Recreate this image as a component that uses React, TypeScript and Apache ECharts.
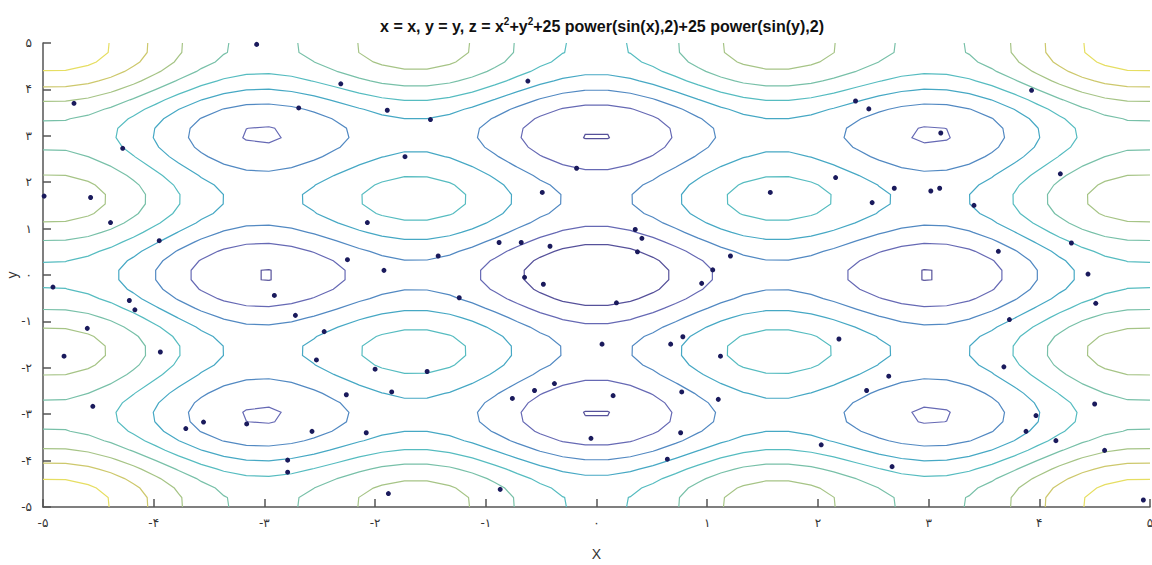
import React, { useEffect, useRef } from "react";
import * as echarts from "echarts";

// ---- data -------------------------------------------------------------
const titleText = "x = x, y = y, z = x{s|2}+y{s|2}+25 power(sin(x),2)+25 power(sin(y),2)";
const xAxisName = "X";
const yAxisName = "y";
const tickLabels = ["-۵", "-۴", "-۳", "-۲", "-۱", "۰", "۱", "۲", "۳", "۴", "۵"];
const contourLevels = [10, 20, 30, 40, 50, 60, 70, 80, 90];
const levelColors = [
  "#56519a",
  "#6669b4",
  "#5289c2",
  "#46a8c4",
  "#56bcc0",
  "#78c0a8",
  "#a6c486",
  "#cdc86c",
  "#e6de62",
];
const pointX = [
  -3.07, -2.31, -1.89, -4.72, -2.69, -4.28, -1.73, -4.99, -4.57, -4.39, -3.95, -2.07,
  -2.25, -1.92, -4.91, -4.22, -4.17, -2.91, -2.72, -2.46, -4.6, -4.81, -3.94, -2.53,
  -2.0, -1.85, -2.26, -4.55, -3.55, -3.71, -3.16, -2.57, -2.08, -2.79, -2.79, -1.88,
  -0.62, -1.5, -0.49, -0.18, 0.35, 0.41, -0.88, -0.68, -0.42, 0.37, -1.43, 1.21,
  1.05, -0.65, -0.48, 0.95, 0.18, -1.24, 0.05, 0.67, 0.78, 1.12, -1.53, -0.76,
  -0.56, -0.38, 0.15, 0.77, 1.1, -0.05, 0.76, 0.64, -0.87,
  3.93, 2.34, 2.46, 3.11, 2.16, 2.69, 3.02, 3.1, 2.49, 3.41, 4.19, 4.29, 3.63, 4.44,
  4.51, 3.73, 2.19, 2.64, 2.44, 3.68, 4.5, 3.97, 3.88, 4.15, 4.59, 2.03, 2.67, 4.94,
  1.57,
];
const pointY = [
  4.97, 4.12, 3.55, 3.7, 3.6, 2.73, 2.55, 1.7, 1.67, 1.13, 0.74, 1.13,
  0.33, 0.1, -0.26, -0.55, -0.75, -0.44, -0.87, -1.22, -1.15, -1.75, -1.66, -1.83,
  -2.03, -2.52, -2.58, -2.83, -3.17, -3.31, -3.21, -3.37, -3.4, -3.99, -4.25, -4.71,
  4.18, 3.35, 1.78, 2.3, 0.98, 0.79, 0.7, 0.7, 0.62, 0.5, 0.41, 0.41,
  0.11, -0.05, -0.2, -0.18, -0.6, -0.49, -1.49, -1.49, -1.33, -1.75, -2.08, -2.66,
  -2.49, -2.34, -2.6, -2.52, -2.68, -3.52, -3.4, -3.97, -4.62,
  3.98, 3.75, 3.58, 3.06, 2.1, 1.87, 1.81, 1.87, 1.56, 1.5, 2.18, 0.69, 0.51, 0.02,
  -0.61, -0.96, -1.38, -2.18, -2.49, -1.98, -2.78, -3.03, -3.37, -3.57, -3.78, -3.66,
  -4.13, -4.85, 1.78,
];
const domainMin = -5;
const domainMax = 5;
const gridCount = 50;

// ---- surface from the title formula --------------------------------
function surface(x: number, y: number) {
  const sx = Math.sin(x);
  const sy = Math.sin(y);
  return x * x + y * y + 25 * sx * sx + 25 * sy * sy;
}

function buildContours(level: number): number[][][] {
  const n = gridCount;
  const h = (domainMax - domainMin) / (n - 1);
  const gx: number[] = [];
  for (let i = 0; i < n; i++) gx.push(domainMin + i * h);
  const z: number[][] = [];
  for (let i = 0; i < n; i++) {
    const row: number[] = [];
    for (let j = 0; j < n; j++) row.push(surface(gx[i], gx[j]));
    z.push(row);
  }
  const pts = new Map<string, number[]>();
  const adj = new Map<string, string[]>();
  const edgePoint = (id: string, xa: number, ya: number, va: number, xb: number, yb: number, vb: number) => {
    if (!pts.has(id)) {
      const t = (level - va) / (vb - va);
      pts.set(id, [xa + t * (xb - xa), ya + t * (yb - ya)]);
    }
    return id;
  };
  const link = (a: string, b: string) => {
    if (!adj.has(a)) adj.set(a, []);
    if (!adj.has(b)) adj.set(b, []);
    adj.get(a)!.push(b);
    adj.get(b)!.push(a);
  };
  for (let i = 0; i < n - 1; i++) {
    for (let j = 0; j < n - 1; j++) {
      const x0 = gx[i], x1 = gx[i + 1], y0 = gx[j], y1 = gx[j + 1];
      const c0 = z[i][j], c1 = z[i + 1][j], c2 = z[i + 1][j + 1], c3 = z[i][j + 1];
      const a0 = c0 >= level, a1 = c1 >= level, a2 = c2 >= level, a3 = c3 >= level;
      const e: (string | null)[] = [null, null, null, null];
      if (a0 !== a1) e[0] = edgePoint(`h${i},${j}`, x0, y0, c0, x1, y0, c1);
      if (a1 !== a2) e[1] = edgePoint(`v${i + 1},${j}`, x1, y0, c1, x1, y1, c2);
      if (a2 !== a3) e[2] = edgePoint(`h${i},${j + 1}`, x1, y1, c2, x0, y1, c3);
      if (a3 !== a0) e[3] = edgePoint(`v${i},${j}`, x0, y1, c3, x0, y0, c0);
      const present = e.filter((v) => v !== null) as string[];
      if (present.length === 2) {
        link(present[0], present[1]);
      } else if (present.length === 4) {
        const center = (c0 + c1 + c2 + c3) / 4 >= level;
        if (center === a0) {
          link(e[0]!, e[1]!);
          link(e[2]!, e[3]!);
        } else {
          link(e[3]!, e[0]!);
          link(e[1]!, e[2]!);
        }
      }
    }
  }
  const used = new Set<string>();
  const lines: number[][][] = [];
  const walk = (start: string) => {
    const line: number[][] = [pts.get(start)!];
    used.add(start);
    let cur = start;
    while (true) {
      const nb = (adj.get(cur) || []).find((k) => !used.has(k));
      if (!nb) {
        if ((adj.get(cur) || []).includes(start) && line.length > 2) line.push(pts.get(start)!);
        break;
      }
      used.add(nb);
      line.push(pts.get(nb)!);
      cur = nb;
    }
    if (line.length > 1) lines.push(line);
  };
  adj.forEach((v, k) => {
    if (!used.has(k) && v.length === 1) walk(k);
  });
  adj.forEach((_v, k) => {
    if (!used.has(k)) walk(k);
  });
  return lines;
}

export default function App() {
  const ref = useRef<HTMLDivElement>(null);
  useEffect(() => {
    if (!ref.current) return;
    const chart = echarts.init(ref.current, undefined, { renderer: "svg" });
    const contourSeries = contourLevels.map((lv, k) => ({
      type: "lines",
      coordinateSystem: "cartesian2d",
      polyline: true,
      silent: true,
      z: 2,
      lineStyle: { color: levelColors[k], width: 1.2, opacity: 1 },
      data: buildContours(lv).map((c) => ({ coords: c })),
    }));
    const labelFmt = (v: number) => tickLabels[Math.round(v) + 5] ?? "";
    const axisCommon = {
      type: "value",
      min: domainMin,
      max: domainMax,
      interval: 1,
      splitLine: { show: false },
      axisLine: { show: true, onZero: false, lineStyle: { color: "#555", width: 1.5 } },
      axisTick: { show: true, inside: true, length: 8, lineStyle: { color: "#555", width: 1.5 } },
      axisLabel: {
        formatter: labelFmt,
        color: "#333",
        fontSize: 12,
        fontFamily: "DejaVu Sans",
      },
      nameTextStyle: { color: "#333", fontSize: 14, fontFamily: "Liberation Sans" },
    };
    chart.setOption({
      animation: false,
      backgroundColor: "#ffffff",
      title: {
        text: titleText,
        left: 597,
        textAlign: "center",
        top: 11,
        textStyle: {
          fontFamily: "Liberation Sans",
          fontWeight: "bold",
          fontSize: 16,
          lineHeight: 20,
          color: "#111",
          rich: {
            s: {
              fontFamily: "Liberation Sans",
              fontWeight: "bold",
              fontSize: 10,
              lineHeight: 10,
              verticalAlign: "top",
              color: "#111",
            },
          },
        },
      },
      grid: {
        left: 43,
        right: 2,
        top: 43,
        bottom: 58,
        containLabel: false,
        outerBoundsMode: "none",
      },
      xAxis: {
        ...axisCommon,
        name: xAxisName,
        nameLocation: "middle",
        nameGap: 40,
        axisLabel: { ...axisCommon.axisLabel, margin: 10 },
      },
      yAxis: {
        ...axisCommon,
        name: yAxisName,
        nameLocation: "middle",
        nameGap: 24,
        nameRotate: 90,
        nameMoveOverlap: false,
        axisLabel: { ...axisCommon.axisLabel, margin: 11 },
      },
      series: [
        ...contourSeries,
        {
          type: "scatter",
          z: 3,
          symbolSize: 5,
          itemStyle: { color: "#1a1a5c", opacity: 1 },
          data: pointX.map((x, i) => [x, pointY[i]]),
        },
      ],
    });
    return () => chart.dispose();
  }, []);
  return (
    <div
      ref={ref}
      style={{ position: "fixed", left: 0, top: 0, width: 1152, height: 565, background: "#fff" }}
    />
  );
}
